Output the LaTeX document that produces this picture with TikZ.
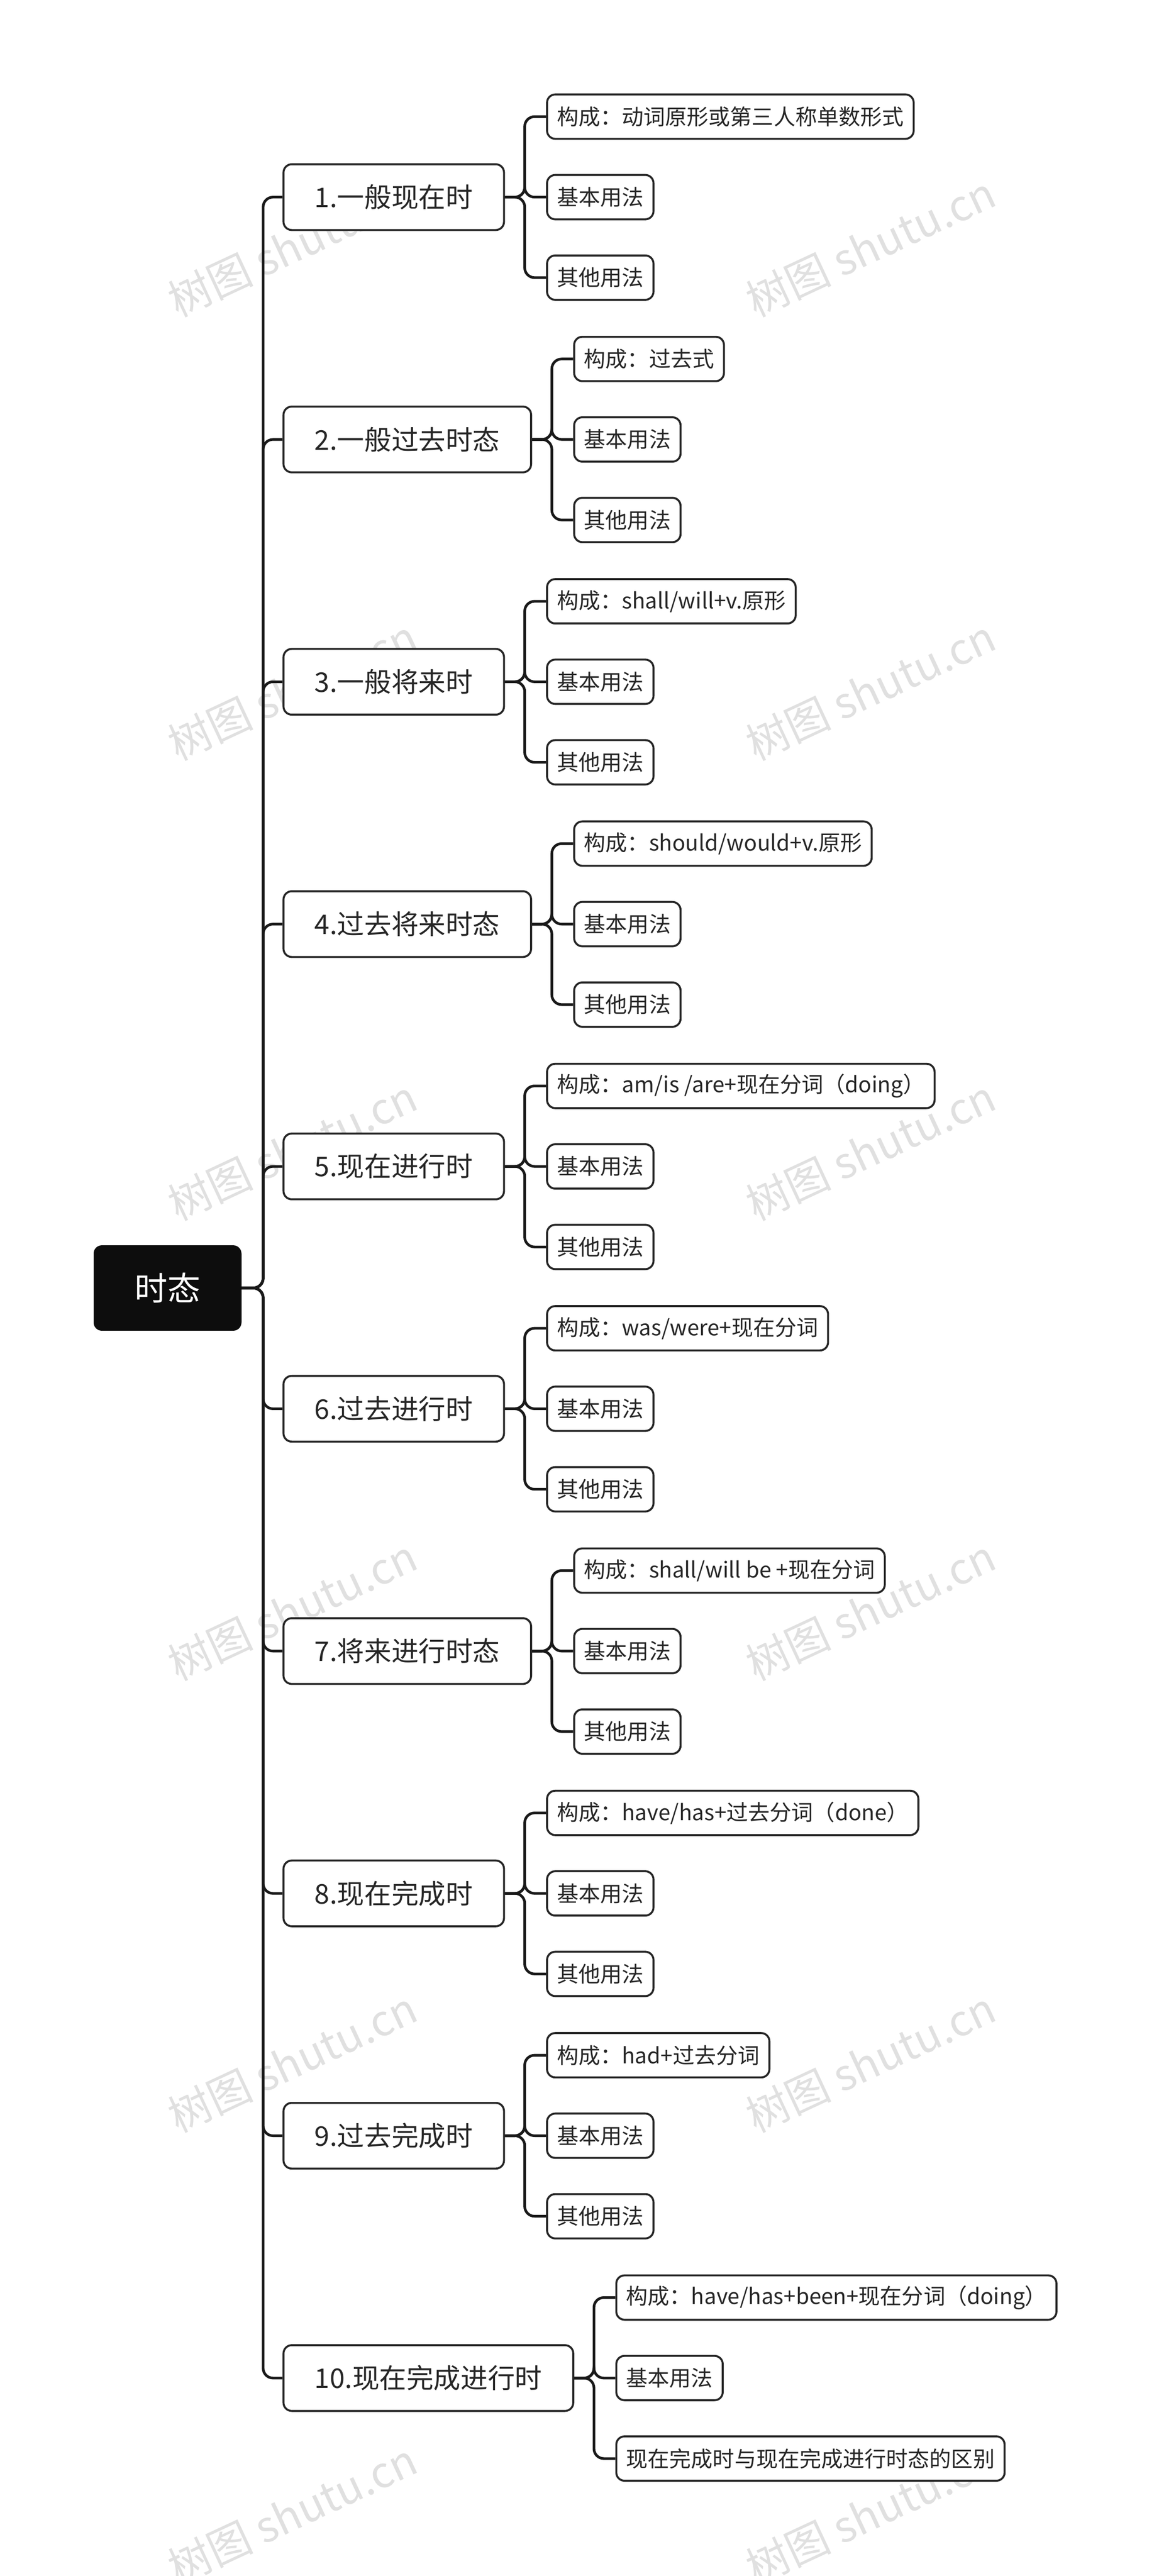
\documentclass[tikz,border=0pt]{standalone}
\usepackage{fontspec}
\setmainfont{Noto Sans CJK SC}
\usetikzlibrary{positioning}

\tikzset{
  root/.style={rectangle, rounded corners=5pt, fill=black!95, text=white, minimum width=90pt, minimum height=52pt, font=\fontsize{20}{20}\selectfont},
  topic/.style={rectangle, rounded corners=5pt, draw=black!85, line width=1.2pt, fill=white, minimum height=40pt, inner xsep=19pt, anchor=west, font=\fontsize{16.5}{16.5}\selectfont, text=black!85},
  sub/.style={rectangle, rounded corners=5pt, draw=black!85, line width=1.2pt, fill=white, minimum height=27pt, inner xsep=6pt, anchor=west, font=\fontsize{13.2}{13.2}\selectfont, text=black!85},
  link/.style={draw=black!90, line width=1.6pt, rounded corners=6pt},
  watermark/.style={text=black!12, rotate=25, font=\fontsize{26}{26}\selectfont}
}

\begin{document}
\begin{tikzpicture}[x=1pt, y=-1pt]
  \useasboundingbox (0,0) rectangle (705.5,1568);

  % watermarks
  \foreach \wy in {150, 420, 700, 980, 1255, 1530} {
    \node[watermark] at (178,\wy) {树图 shutu.cn};
    \node[watermark] at (530,\wy) {树图 shutu.cn};
  }

  \node[root] (root) at (102,784) {时态};

  % topics and their sub items
  \foreach \i/\name/\first/\last [count=\k from 0] in {
      1/{1.一般现在时}/{构成：动词原形或第三人称单数形式}/{其他用法},
      2/{2.一般过去时态}/{构成：过去式}/{其他用法},
      3/{3.一般将来时}/{构成：shall/will+v.原形}/{其他用法},
      4/{4.过去将来时态}/{构成：should/would+v.原形}/{其他用法},
      5/{5.现在进行时}/{构成：am/is /are+现在分词（doing）}/{其他用法},
      6/{6.过去进行时}/{构成：was/were+现在分词}/{其他用法},
      7/{7.将来进行时态}/{构成：shall/will be +现在分词}/{其他用法},
      8/{8.现在完成时}/{构成：have/has+过去分词（done）}/{其他用法},
      9/{9.过去完成时}/{构成：had+过去分词}/{其他用法},
      10/{10.现在完成进行时}/{构成：have/has+been+现在分词（doing）}/{现在完成时与现在完成进行时态的区别}} {
    \node[topic] (T\i) at (172,{120+147.5*\k}) {\name};
    \draw[link] (root.east) -- ++(13,0) |- (T\i.west);
    \node[sub] (T\i-a) at ([xshift=25pt,yshift=49pt]T\i.east) {\first};
    \node[sub] (T\i-b) at ([xshift=25pt]T\i.east) {基本用法};
    \node[sub] (T\i-c) at ([xshift=25pt,yshift=-49pt]T\i.east) {\last};
    \foreach \s in {a,b,c}
      \draw[link] (T\i.east) -- ++(12,0) |- (T\i-\s.west);
  }
\end{tikzpicture}
\end{document}
